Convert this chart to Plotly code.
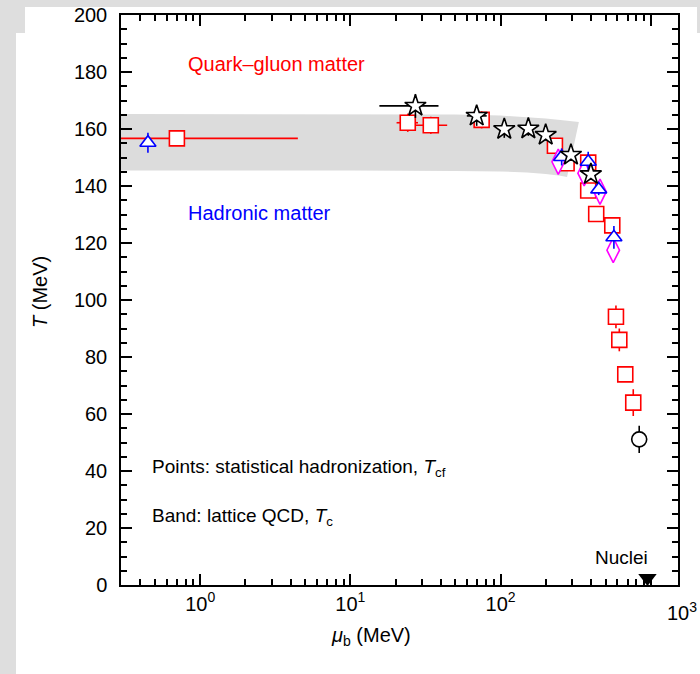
import plotly.graph_objects as go
import numpy as np

# Lattice QCD crossover band (upper edge left->right, lower edge right->left)
band_mu_upper = [0.2, 1, 10, 50, 100, 150, 200, 250, 300, 332]
band_T_upper = [165.3, 165.3, 165.3, 165.1, 164.7, 164.2, 163.7, 163.2, 162.8, 162.5]
band_mu_lower = [277, 250, 200, 150, 100, 50, 10, 1, 0.2]
band_T_lower = [143.2, 143.6, 144.2, 144.7, 145.1, 145.3, 145.4, 145.4, 145.4]

# Statistical hadronization fits: red squares
sq_mu = [0.70, 24.1, 34.3, 74.8, 230, 275, 383, 383, 433, 554, 586, 617, 676, 764]
sq_T = [156.7, 162.2, 161.3, 163.2, 154.1, 148.0, 148.2, 138.4, 130.2, 126.2, 94.1, 86.0, 73.9, 64.0]
sq_T_err = [1.5, 3.2, 3.0, 3.0, 2.0, 2.0, 2.0, 2.0, 1.5, 2.0, 4.0, 4.0, 2.5, 4.7]
sq_mu_err_lo = [0.6, 3.8, 8.7, 9.1, 0, 0, 0, 0, 0, 0, 0, 0, 0, 0]
sq_mu_err_hi = [3.77, 4.1, 9.8, 10.1, 0, 0, 0, 0, 0, 0, 0, 0, 0, 0]

# Black stars
st_mu = [27.1, 69.3, 105.8, 153, 199.6, 294, 399]
st_T = [168.1, 164.6, 159.9, 160.1, 157.9, 150.9, 144.1]
st_T_err = [4.2, 3.5, 3.0, 2.5, 2.0, 2.0, 2.0]
st_mu_err_lo = [11.5, 9.7, 0, 0, 0, 0, 0]
st_mu_err_hi = [11.5, 11.5, 0, 0, 0, 0, 0]

# Blue triangles
tr_mu = [0.449, 255, 383, 450, 568]
tr_T = [155.2, 150.2, 148.5, 138.8, 122.0]
tr_T_err = [3.5, 3.0, 3.5, 2.0, 4.0]

# Magenta diamonds
dm_mu = [242, 360, 459, 562]
dm_T = [148.5, 144.5, 138.0, 117.5]

# Black circle
ci_mu = [837]
ci_T = [51.1]
ci_T_err = [4.8]

# Nuclei
nu_mu = [950]
nu_T = [2.5]

# Axis ticks
x_tick_vals = [1, 10, 100, 1000]
x_tick_text = ["10<sup>0</sup>", "10<sup>1</sup>", "10<sup>2</sup>", ""]
y_tick_vals = list(range(0, 201, 20))

# Figure geometry (pixels)
W, H = 700, 674
ML, MR, MT, MB = 121, 22, 15, 89
PW, PH = W - ML - MR, H - MT - MB


def px(x):
    return (x - ML) / PW


def py(y):
    return (H - MB - y) / PH


FONT = "Liberation Sans, Arial, Helvetica, sans-serif"
RED, BLUE, MAG, BLK = "#ff0000", "#0000ff", "#ff00ff", "#000000"
LW = 1.6

x_lo, x_hi = -0.527, 3.181
x_minor = [m * 10.0 ** d for d in range(-1, 4) for m in range(2, 10)
           if x_lo < np.log10(m * 10.0 ** d) < x_hi]

fig = go.Figure()

fig.add_trace(go.Scatter(
    x=band_mu_upper + band_mu_lower, y=band_T_upper + band_T_lower,
    fill="toself", fillcolor="#dcdcdc", line=dict(width=0),
    mode="lines", hoverinfo="skip", showlegend=False))

fig.add_trace(go.Scatter(
    x=sq_mu, y=sq_T, mode="markers",
    marker=dict(symbol="square", size=15, color="white", line=dict(color=RED, width=LW)),
    error_y=dict(type="data", array=sq_T_err, color=RED, thickness=LW, width=0),
    error_x=dict(type="data", array=sq_mu_err_hi, arrayminus=sq_mu_err_lo,
                 color=RED, thickness=LW, width=0),
    showlegend=False))

fig.add_trace(go.Scatter(
    x=dm_mu, y=dm_T, mode="markers",
    marker=dict(symbol="diamond-tall", size=18, color="white", line=dict(color=MAG, width=LW)),
    showlegend=False))

fig.add_trace(go.Scatter(
    x=tr_mu, y=tr_T, mode="markers",
    marker=dict(symbol="triangle-up", size=14, color="white", line=dict(color=BLUE, width=LW)),
    error_y=dict(type="data", array=tr_T_err, color=BLUE, thickness=LW, width=0),
    showlegend=False))

fig.add_trace(go.Scatter(
    x=st_mu, y=st_T, mode="markers",
    marker=dict(symbol="star", size=16, color="white", line=dict(color=BLK, width=LW)),
    error_y=dict(type="data", array=st_T_err, color=BLK, thickness=LW, width=0),
    error_x=dict(type="data", array=st_mu_err_hi, arrayminus=st_mu_err_lo,
                 color=BLK, thickness=LW, width=0),
    showlegend=False))

fig.add_trace(go.Scatter(
    x=ci_mu, y=ci_T, mode="markers",
    marker=dict(symbol="circle", size=15, color="white", line=dict(color=BLK, width=LW)),
    error_y=dict(type="data", array=ci_T_err, color=BLK, thickness=LW, width=0),
    showlegend=False))

fig.add_trace(go.Scatter(
    x=nu_mu, y=nu_T, mode="markers", cliponaxis=False,
    marker=dict(symbol="triangle-down", size=16, color=BLK, line=dict(width=0)),
    showlegend=False))

# White page panels over the grey surround
shapes = [
    dict(type="rect", xref="paper", yref="paper", layer="below",
         x0=px(25), x1=px(697), y0=py(44), y1=py(7),
         fillcolor="white", line=dict(width=0)),
    dict(type="rect", xref="paper", yref="paper", layer="below",
         x0=px(16), x1=px(710), y0=py(700), y1=py(33),
         fillcolor="white", line=dict(width=0)),
]

annotations = [
    dict(text="Quark–gluon matter", x=px(186), y=py(64), xanchor="left", yanchor="middle",
         font=dict(color=RED, size=20)),
    dict(text="Hadronic matter", x=px(186), y=py(213), xanchor="left", yanchor="middle",
         font=dict(color=BLUE, size=20)),
    dict(text="Points: statistical hadronization, <i>T</i><sub>cf</sub>", x=px(150), y=py(468),
         xanchor="left", yanchor="middle", font=dict(color=BLK, size=19)),
    dict(text="Band: lattice QCD, <i>T</i><sub>c</sub>", x=px(150), y=py(517),
         xanchor="left", yanchor="middle", font=dict(color=BLK, size=19)),
    dict(text="Nuclei", x=px(621), y=py(557), xanchor="center", yanchor="middle",
         font=dict(color=BLK, size=19)),
    dict(text="10<sup>3</sup>", x=px(682), y=py(611), xanchor="center", yanchor="middle",
         font=dict(color=BLK, size=20)),
    # axis titles
    dict(text="<i>μ</i><sub>b</sub> (MeV)", x=px(371), y=py(636), xanchor="center",
         yanchor="middle", font=dict(color=BLK, size=20)),
    dict(text="<i>T</i> (MeV)", x=px(40), y=py(292), xanchor="center", yanchor="middle",
         textangle=-90, font=dict(color=BLK, size=20)),
]
for a in annotations:
    a.update(xref="paper", yref="paper", showarrow=False)

axis_common = dict(
    showline=True, linecolor=BLK, linewidth=1.5, mirror="ticks",
    ticks="inside", ticklen=11, tickwidth=1.5, tickcolor=BLK,
    showgrid=False, zeroline=False, automargin=False,
    tickfont=dict(size=20, color=BLK, family=FONT),
)

fig.update_layout(
    width=W, height=H,
    margin=dict(l=ML, r=MR, t=MT, b=MB, pad=0, autoexpand=False),
    paper_bgcolor="#dedede", plot_bgcolor="white",
    font=dict(family=FONT, color=BLK, size=19),
    shapes=shapes, annotations=annotations,
    xaxis=dict(
        type="log", range=[x_lo, x_hi],
        tickmode="array", tickvals=x_tick_vals, ticktext=x_tick_text,
        minor=dict(tickmode="array", tickvals=x_minor, ticks="inside", ticklen=6,
                   tickwidth=1.5, tickcolor=BLK, showgrid=False),
        **axis_common),
    yaxis=dict(
        range=[0, 200], tickmode="array", tickvals=y_tick_vals,
        minor=dict(dtick=5, ticks="inside", ticklen=6, tickwidth=1.5,
                   tickcolor=BLK, showgrid=False),
        ticklabelstandoff=8,
        **axis_common),
)

fig.write_html("out.html")
